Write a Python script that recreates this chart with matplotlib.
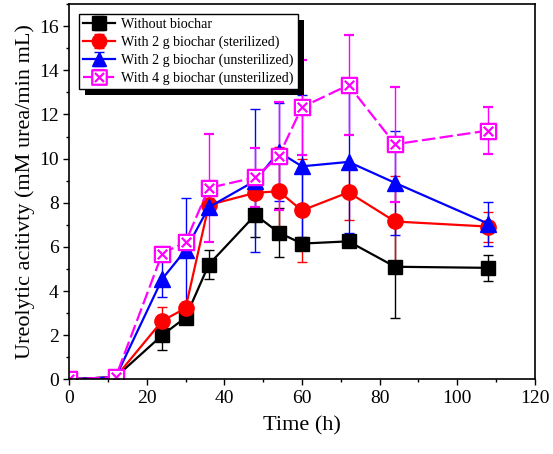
import matplotlib.pyplot as plt
from matplotlib.path import Path
from matplotlib.patches import Rectangle
from matplotlib.ticker import MultipleLocator

plt.rcParams['font.family'] = ['Liberation Serif', 'DejaVu Serif']

# time points (h)
time_h = [0, 12, 24, 30, 36, 48, 54, 60, 72, 84, 108]

without_bc = [0, 0.1, 2.0, 2.8, 5.2, 7.45, 6.65, 6.15, 6.25, 5.1, 5.05]
without_err = [0, 0, 0.65, 0.2, 0.67, 1.0, 1.1, 0.3, 0.2, 2.3, 0.6]

bc2_ster = [0, 0.1, 2.65, 3.22, 7.9, 8.45, 8.52, 7.65, 8.47, 7.15, 6.92]
bc2_ster_err = [0, 0, 0.62, 0.2, 0.3, 0.3, 2.0, 2.35, 1.25, 2.05, 0.68]

bc2_unster = [0, 0.1, 4.55, 5.85, 7.8, 9.0, 10.3, 9.65, 9.85, 8.9, 7.05]
bc2_unster_err = [0, 0, 0.8, 2.35, 0.3, 3.25, 2.2, 3.25, 3.2, 2.35, 1.0]

bc4_unster = [0, 0.1, 5.7, 6.22, 8.67, 9.15, 10.1, 12.33, 13.33, 10.65, 11.27]
bc4_unster_err = [0, 0, 0.2, 0.2, 2.45, 1.35, 2.45, 2.15, 2.25, 2.6, 1.05]

labels = ["Without biochar", "With 2 g biochar (sterilized)",
          "With 2 g biochar (unsterilized)", "With 4 g biochar (unsterilized)"]

# square with a cross inside
d = 0.62
box_x = Path([(-1, -1), (1, -1), (1, 1), (-1, 1), (-1, -1),
              (-d, -d), (d, d), (-d, d), (d, -d)],
             [Path.MOVETO, Path.LINETO, Path.LINETO, Path.LINETO, Path.CLOSEPOLY,
              Path.MOVETO, Path.LINETO, Path.MOVETO, Path.LINETO])

fig = plt.figure(figsize=(5.53, 4.54), dpi=100)
ax = fig.add_axes([0.125, 0.1645, 0.842, 0.8265])

series = [
    (without_bc, without_err, "black", "s", "-", dict(mfc="black", ms=10)),
    (bc2_ster, bc2_ster_err, "red", "o", "-", dict(mfc="red", ms=11)),
    (bc2_unster, bc2_unster_err, "blue", "^", "-", dict(mfc="blue", ms=11)),
    (bc4_unster, bc4_unster_err, "magenta", box_x, (0, (6, 2)),
     dict(mfc="white", ms=11, mew=1.6)),
]

handles = []
for (vals, errs, col, mk, ls, kw), lab in zip(series, labels):
    eb = ax.errorbar(time_h, vals, yerr=errs, color=col, ecolor=col,
                     elinewidth=1, capsize=3.5, capthick=1,
                     marker=mk, linestyle=ls, lw=1.6, mec=col, label=lab, **kw)
    handles.append(eb)

ax.set_xlim(0, 120)
ax.set_ylim(0, 17)
ax.xaxis.set_major_locator(MultipleLocator(20))
ax.xaxis.set_minor_locator(MultipleLocator(10))
ax.yaxis.set_major_locator(MultipleLocator(2))
ax.yaxis.set_minor_locator(MultipleLocator(1))
ax.tick_params(which="major", direction="out", length=4, width=1, labelsize=14)
ax.tick_params(which="minor", direction="out", length=2.5, width=1)
for sp in ax.spines.values():
    sp.set_linewidth(1.2)

ax.set_xlabel("Time (h)", fontsize=16, labelpad=7)
ax.set_ylabel("Ureolytic acitivty (mM urea/min mL)", fontsize=16, labelpad=3)

leg = ax.legend(handles=handles, loc="upper left", fontsize=10.1,
                frameon=True, fancybox=False, edgecolor="black",
                framealpha=1, borderaxespad=0.7, handlelength=2.3,
                handletextpad=0.4, labelspacing=0.32, borderpad=0.3,
                markerscale=0.95)
leg.get_frame().set_linewidth(1)

# black drop shadow behind the legend box
fig.canvas.draw()
bb = leg.get_window_extent()
W, H = fig.get_size_inches() * fig.dpi
off = 6
shadow = Rectangle(((bb.x0 + off) / W, (bb.y0 - off) / H),
                   bb.width / W, bb.height / H, transform=fig.transFigure,
                   facecolor="black", edgecolor="none", zorder=4.9,
                   clip_on=False)
ax.add_artist(shadow)

fig.savefig("out.png", dpi=100)
